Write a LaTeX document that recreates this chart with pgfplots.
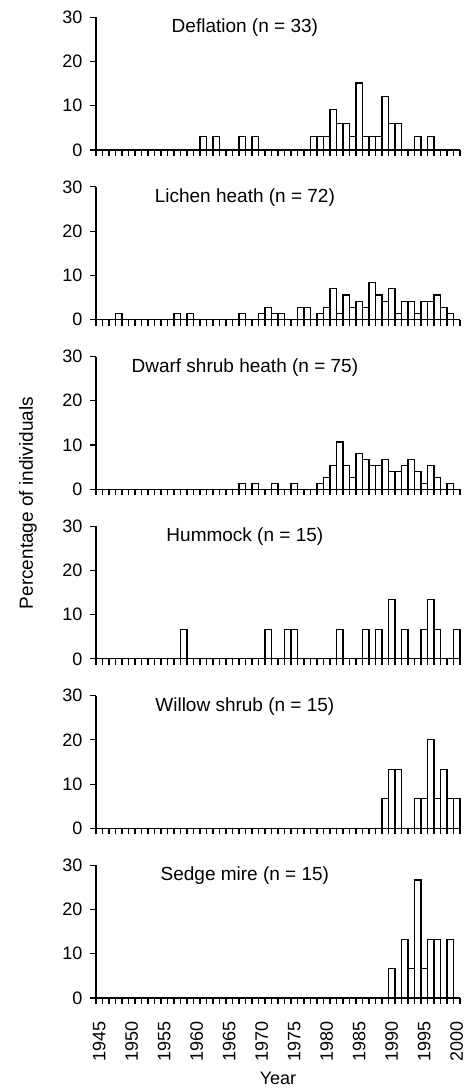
\documentclass[border=0pt]{standalone}
\usepackage{fontspec}
\setmainfont{Liberation Sans}
\usepackage{pgfplots}
\pgfplotsset{compat=1.18}

\pgfplotsset{
  panel/.style={
    scale only axis, width=364pt, height=132.7pt,
    anchor=south west,
    xmin=1944.5, xmax=2000.5, ymin=0, ymax=30,
    axis x line*=bottom, axis y line*=left,
    axis line style={line width=1.1pt, -},
    ytick={0,10,20,30},
    xtick={1944.5,1945.5,...,2000.5}, xticklabels={},
    tick align=outside, major tick length=6pt,
    tick style={line width=1.1pt, black},
    tick label style={font=\fontsize{18}{20}\selectfont},
    yticklabel style={xshift=-4pt},
    /pgf/number format/assume math mode=true,
    /pgf/number format/1000 sep={},
    ybar, bar width=1,
    clip=false,
  },
  bars/.style={draw=black, fill=white, line width=1.1pt},
}
\newcommand{\paneltitle}[1]{\node[anchor=base, inner sep=0pt, font=\fontsize{19}{21}\selectfont]
  at (rel axis cs:0.409,1) [yshift=-15.5pt] {#1};}

\begin{document}
\begin{tikzpicture}
\useasboundingbox (0,0) rectangle (466pt,-1088pt);

% Deflation
\begin{axis}[panel, at={(96pt,-150pt)}]
\addplot[bars] coordinates {
 (1961,3.03) (1963,3.03) (1967,3.03) (1969,3.03) (1978,3.03) (1979,3.03) (1980,3.03)
 (1981,9.09) (1982,6.06) (1983,6.06) (1984,3.03) (1985,15.15) (1986,3.03) (1987,3.03)
 (1988,3.03) (1989,12.12) (1990,6.06) (1991,6.06) (1994,3.03) (1996,3.03)};
\paneltitle{Deflation (n = 33)}
\end{axis}

% Lichen heath
\begin{axis}[panel, at={(96pt,-319.6pt)}]
\addplot[bars] coordinates {
 (1948,1.39) (1957,1.39) (1959,1.39) (1967,1.39) (1970,1.39) (1971,2.78) (1972,1.39)
 (1973,1.39) (1976,2.78) (1977,2.78) (1979,1.39) (1980,2.78) (1981,6.94) (1982,1.39)
 (1983,5.56) (1984,2.78) (1985,4.17) (1986,2.78) (1987,8.33) (1988,5.56) (1989,4.17)
 (1990,6.94) (1991,1.39) (1992,4.17) (1993,4.17) (1994,1.39) (1995,4.17) (1996,4.17)
 (1997,5.56) (1998,2.78) (1999,1.39)};
\paneltitle{Lichen heath (n = 72)}
\end{axis}

% Dwarf shrub heath
\begin{axis}[panel, at={(96pt,-489.2pt)}]
\addplot[bars] coordinates {
 (1967,1.33) (1969,1.33) (1972,1.33) (1975,1.33) (1979,1.33) (1980,2.67) (1981,5.33)
 (1982,10.67) (1983,5.33) (1984,2.67) (1985,8.00) (1986,6.67) (1987,5.33) (1988,5.33)
 (1989,6.67) (1990,4.00) (1991,4.00) (1992,5.33) (1993,6.67) (1994,4.00) (1995,1.33)
 (1996,5.33) (1997,2.67) (1999,1.33)};
\paneltitle{Dwarf shrub heath (n = 75)}
\end{axis}

% Hummock
\begin{axis}[panel, at={(96pt,-658.8pt)}]
\addplot[bars] coordinates {
 (1958,6.67) (1971,6.67) (1974,6.67) (1975,6.67) (1982,6.67) (1986,6.67) (1988,6.67)
 (1990,13.33) (1992,6.67) (1995,6.67) (1996,13.33) (1997,6.67) (2000,6.67)};
\paneltitle{Hummock (n = 15)}
\end{axis}

% Willow shrub
\begin{axis}[panel, at={(96pt,-828.4pt)}]
\addplot[bars] coordinates {
 (1989,6.67) (1990,13.33) (1991,13.33) (1994,6.67) (1995,6.67) (1996,20.00)
 (1997,6.67) (1998,13.33) (1999,6.67) (2000,6.67)};
\paneltitle{Willow shrub (n = 15)}
\end{axis}

% Sedge mire
\begin{axis}[panel, at={(96pt,-998pt)},
  extra x ticks={1945,1950,1955,1960,1965,1970,1975,1980,1985,1990,1995,2000},
  extra x tick labels={1945,1950,1955,1960,1965,1970,1975,1980,1985,1990,1995,2000},
  extra x tick style={major tick length=0pt,
    tick label style={yshift=-20pt, rotate=90, anchor=east}},
]
\addplot[bars] coordinates {
 (1990,6.67) (1992,13.33) (1993,6.67) (1994,26.67) (1995,6.67) (1996,13.33)
 (1997,13.33) (1999,13.33)};
\paneltitle{Sedge mire (n = 15)}
\end{axis}

\node[rotate=90, font=\fontsize{19}{21}\selectfont] at (28pt,-503pt) {Percentage of individuals};
\node[font=\fontsize{18}{20}\selectfont] at (278pt,-1078pt) {Year};
\end{tikzpicture}
\end{document}
